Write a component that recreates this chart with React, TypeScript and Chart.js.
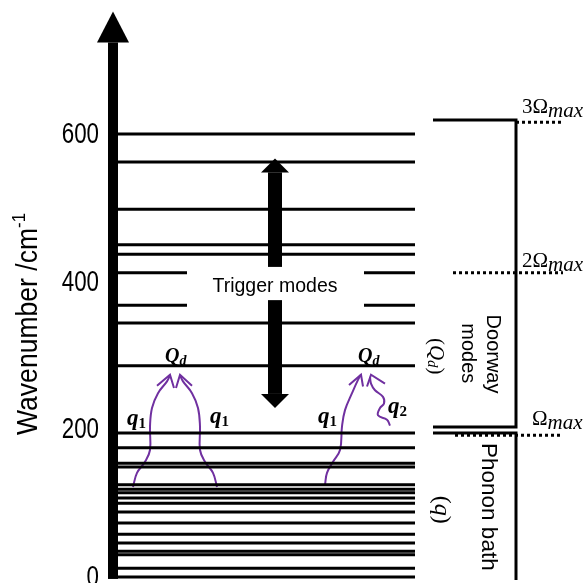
import { useEffect, useRef } from 'react';
import { Chart, registerables } from 'chart.js';

Chart.register(...registerables);

// ---------- data (x: horizontal position units, y: wavenumber units) ----------
const yTicks = [0, 200, 400, 600];
const modeLevels = [600, 562, 498, 450, 437, 344, 286, 195, 175, 154, 149, 125, 119, 114, 107, 100, 88, 73, 58, 46, 35, 30, 12, 0];
const splitLevels = [412, 368];
const modeSpan = [0, 297];
const splitLeftSpan = [0, 69];
const splitRightSpan = [246, 297];
const doorwayBracket = [
  { x: 315, y: 619 }, { x: 398, y: 619 }, { x: 398, y: 203 }, { x: 315, y: 203 },
];
const phononBracket = [
  { x: 315, y: 195 }, { x: 398, y: 195 }, { x: 398, y: -4 },
];
const omegaLevels = [192, 412, 616];
const omegaStarts = [337, 335, 398];
const omegaEnd = 445;
const omegaPrefix = ['', '2', '3'];
const omegaLabelX = [414, 404, 404];
const omegaLabelY = [206, 420, 628];
const axisTop = 766;
const triggerX = 157;
const triggerUp = [420, 567];
const triggerDown = [375, 229];
const triggerLabelY = 393;

const pathA = [
  { x: 15, y: 122 }, { x: 19, y: 141 }, { x: 27, y: 156 }, { x: 32, y: 172 }, { x: 32, y: 204 },
  { x: 34, y: 229 }, { x: 40, y: 249 }, { x: 49, y: 265 }, { x: 52, y: 273 },
];
const pathB = [
  { x: 99, y: 122 }, { x: 95, y: 141 }, { x: 87, y: 156 }, { x: 82, y: 172 }, { x: 82, y: 204 },
  { x: 80, y: 229 }, { x: 74, y: 249 }, { x: 65, y: 265 }, { x: 62, y: 273 },
];
const pathC = [
  { x: 207, y: 125 }, { x: 209, y: 141 }, { x: 215, y: 156 }, { x: 222, y: 172 }, { x: 224, y: 204 },
  { x: 227, y: 226 }, { x: 234, y: 249 }, { x: 240, y: 267 }, { x: 243, y: 274 },
];
const pathD = [
  { x: 272, y: 205 }, { x: 269, y: 213 }, { x: 260, y: 219 }, { x: 262, y: 229 }, { x: 266, y: 235 },
  { x: 265, y: 244 }, { x: 257, y: 253 }, { x: 253, y: 262 }, { x: 252, y: 271 },
];
const headA = [{ x: 39, y: 259 }, { x: 52, y: 274 }, { x: 56, y: 256 }];
const headB = [{ x: 58, y: 256 }, { x: 62, y: 274 }, { x: 74, y: 259 }];
const headC = [{ x: 231, y: 260 }, { x: 243, y: 274 }, { x: 245, y: 258 }];
const headD = [{ x: 249, y: 258 }, { x: 253, y: 274 }, { x: 267, y: 262 }];

const qLabelX = [9, 92, 200, 270];
const qLabelY = [206, 209, 209, 222];
const qLabelSub = ['1', '1', '1', '2'];
const QdLabelX = [47, 240];
const QdLabelY = [291, 291];

// ---------- styling ----------
const SANS = '"Liberation Sans", Arial, sans-serif';
const SERIF = '"Liberation Serif", "Times New Roman", serif';
const PURPLE = '#7030a0';

type Pt = { x: number; y: number | null };

function segments(levels: number[], spans: number[][]): Pt[] {
  const pts: Pt[] = [];
  levels.forEach((v) => {
    spans.forEach(([a, b]) => {
      pts.push({ x: a, y: v }, { x: b, y: v }, { x: b, y: null });
    });
  });
  return pts;
}

function omegaSegments(): Pt[] {
  const pts: Pt[] = [];
  omegaLevels.forEach((v, i) => {
    pts.push({ x: omegaStarts[i], y: v }, { x: omegaEnd, y: v }, { x: omegaEnd, y: null });
  });
  return pts;
}

type Part = { t: string; f: string; dy?: number };

function drawParts(ctx: CanvasRenderingContext2D, parts: Part[], x: number, y: number, align: 'left' | 'center') {
  let w = 0;
  parts.forEach((p) => {
    ctx.font = p.f;
    w += ctx.measureText(p.t).width;
  });
  let cx = align === 'center' ? x - w / 2 : x;
  ctx.textAlign = 'left';
  parts.forEach((p) => {
    ctx.font = p.f;
    ctx.fillText(p.t, cx, y + (p.dy || 0));
    cx += ctx.measureText(p.t).width;
  });
}

function blockArrow(ctx: CanvasRenderingContext2D, x: number, yFrom: number, yTip: number, shaft: number, headW: number, headL: number) {
  const dir = yTip < yFrom ? -1 : 1;
  const base = yTip - dir * headL;
  ctx.fillRect(x - shaft / 2, Math.min(yFrom, base), shaft, Math.abs(base - yFrom));
  ctx.beginPath();
  ctx.moveTo(x, yTip);
  ctx.lineTo(x - headW / 2, base);
  ctx.lineTo(x + headW / 2, base);
  ctx.closePath();
  ctx.fill();
}

const overlayPlugin = {
  id: 'overlay',
  afterDatasetsDraw(chart: any) {
    const ctx: CanvasRenderingContext2D = chart.ctx;
    const xs = chart.scales.x;
    const ys = chart.scales.y;
    const X = (v: number) => xs.getPixelForValue(v);
    const Y = (v: number) => ys.getPixelForValue(v);
    const area = chart.chartArea;
    ctx.save();
    ctx.fillStyle = '#000';

    // main axis arrow
    const ax = area.left - 5;
    blockArrow(ctx, ax, area.bottom - 1, Y(axisTop), 10, 32, 31);

    // y tick labels (condensed), from the scale's ticks
    ys.ticks.forEach((t: any) => {
      ctx.save();
      ctx.translate(area.left - 19, Y(t.value));
      ctx.scale(0.77, 1);
      ctx.font = `29px ${SANS}`;
      ctx.textAlign = 'right';
      ctx.textBaseline = 'middle';
      ctx.fillText(String(t.value), 0, 1);
      ctx.restore();
    });

    // trigger arrows
    blockArrow(ctx, X(triggerX), Y(triggerUp[0]), Y(triggerUp[1]), 14, 28, 14);
    blockArrow(ctx, X(triggerX), Y(triggerDown[0]), Y(triggerDown[1]), 14, 28, 14);

    ctx.textBaseline = 'middle';
    ctx.textAlign = 'center';
    ctx.font = `19.5px ${SANS}`;
    ctx.fillText('Trigger modes', X(triggerX), Y(triggerLabelY));

    // y-axis title (condensed to fit)
    ctx.save();
    ctx.translate(26, 324);
    ctx.rotate(-Math.PI / 2);
    ctx.textBaseline = 'alphabetic';
    const mainF = `30px ${SANS}`;
    const supF = `19px ${SANS}`;
    ctx.font = mainF;
    const w1 = ctx.measureText('Wavenumber /cm').width;
    ctx.font = supF;
    const w2 = ctx.measureText('-1').width;
    const total = w1 + w2;
    const k = 222 / total;
    ctx.scale(k, 1);
    ctx.textAlign = 'left';
    ctx.font = mainF;
    ctx.fillText('Wavenumber /cm', -total / 2, 11);
    ctx.font = supF;
    ctx.fillText('-1', -total / 2 + w1, -1);
    ctx.restore();

    // q labels
    ctx.textBaseline = 'alphabetic';
    qLabelX.forEach((qx, i) => {
      drawParts(ctx, [
        { t: 'q', f: `bold italic 23px ${SERIF}` },
        { t: qLabelSub[i], f: `bold 15px ${SERIF}`, dy: 3 },
      ], X(qx), Y(qLabelY[i]), 'left');
    });
    QdLabelX.forEach((qx, i) => {
      drawParts(ctx, [
        { t: 'Q', f: `bold italic 20px ${SERIF}` },
        { t: 'd', f: `bold italic 14px ${SERIF}`, dy: 3 },
      ], X(qx), Y(QdLabelY[i]), 'left');
    });

    // omega labels
    omegaLabelX.forEach((ox, i) => {
      drawParts(ctx, [
        { t: omegaPrefix[i] + 'Ω', f: `21px ${SERIF}` },
        { t: 'max', f: `italic 21px ${SERIF}`, dy: 4 },
      ], X(ox), Y(omegaLabelY[i]), 'left');
    });

    // rotated labels (clockwise)
    const rot = (cx: number, cy: number, fn: () => void) => {
      ctx.save();
      ctx.translate(cx, cy);
      ctx.rotate(Math.PI / 2);
      ctx.textBaseline = 'middle';
      fn();
      ctx.restore();
    };
    rot(X(375), Y(302), () => drawParts(ctx, [{ t: 'Doorway', f: `20px ${SANS}` }], 0, 0, 'center'));
    rot(X(350), Y(303), () => drawParts(ctx, [{ t: 'modes', f: `20px ${SANS}` }], 0, 0, 'center'));
    rot(X(318), Y(299), () => drawParts(ctx, [
      { t: '(', f: `21px ${SERIF}` },
      { t: 'Q', f: `italic 21px ${SERIF}` },
      { t: 'd', f: `italic 15px ${SERIF}`, dy: 4 },
      { t: ')', f: `21px ${SERIF}` },
    ], 0, 0, 'center'));
    rot(X(370), Y(95), () => drawParts(ctx, [{ t: 'Phonon bath', f: `22.5px ${SANS}` }], 0, 0, 'center'));
    rot(X(323), Y(91), () => drawParts(ctx, [
      { t: '(', f: `24px ${SERIF}` },
      { t: 'q', f: `italic 24px ${SERIF}` },
      { t: ')', f: `24px ${SERIF}` },
    ], 0, 0, 'center'));

    ctx.restore();
  },
};

export default function App() {
  const ref = useRef<HTMLCanvasElement | null>(null);

  useEffect(() => {
    if (!ref.current) return;
    const black = { borderColor: '#000', borderWidth: 3, pointRadius: 0, fill: false, tension: 0 };
    const purple = { borderColor: PURPLE, borderWidth: 2, pointRadius: 0, fill: false };
    const chart = new Chart(ref.current, {
      type: 'line',
      data: {
        datasets: [
          { ...black, data: segments(modeLevels, [modeSpan]) },
          { ...black, data: segments(splitLevels, [splitLeftSpan, splitRightSpan]) },
          { ...black, data: doorwayBracket },
          { ...black, data: phononBracket },
          { ...black, data: omegaSegments(), borderDash: [3, 3] },
          { ...purple, tension: 0.4, data: pathA },
          { ...purple, tension: 0.4, data: pathB },
          { ...purple, tension: 0.4, data: pathC },
          { ...purple, tension: 0.4, data: pathD },
          { ...purple, tension: 0, data: headA },
          { ...purple, tension: 0, data: headB },
          { ...purple, tension: 0, data: headC },
          { ...purple, tension: 0, data: headD },
        ] as any,
      },
      options: {
        responsive: false,
        animation: false,
        devicePixelRatio: 1,
        layout: { padding: { top: 8.5, bottom: 3.05, left: 0, right: 0 } },
        plugins: { legend: { display: false }, tooltip: { enabled: false } },
        events: [],
        scales: {
          x: { type: 'linear', min: 0, max: 470, display: false },
          y: {
            type: 'linear',
            min: -4,
            max: 770,
            bounds: 'data',
            afterBuildTicks: (s: any) => {
              s.ticks = yTicks.map((v) => ({ value: v }));
            },
            afterFit: (s: any) => {
              s.width = 118;
              s.paddingTop = 0;
              s.paddingBottom = 0;
            },
            ticks: { display: false },
            grid: { display: false, drawTicks: false },
            border: { display: false },
          },
        },
      } as any,
      plugins: [overlayPlugin],
    });
    return () => chart.destroy();
  }, []);

  return (
    <div style={{ position: 'fixed', left: 0, top: 0, width: 588, height: 583, background: '#fff' }}>
      <canvas ref={ref} width={588} height={583} />
    </div>
  );
}
